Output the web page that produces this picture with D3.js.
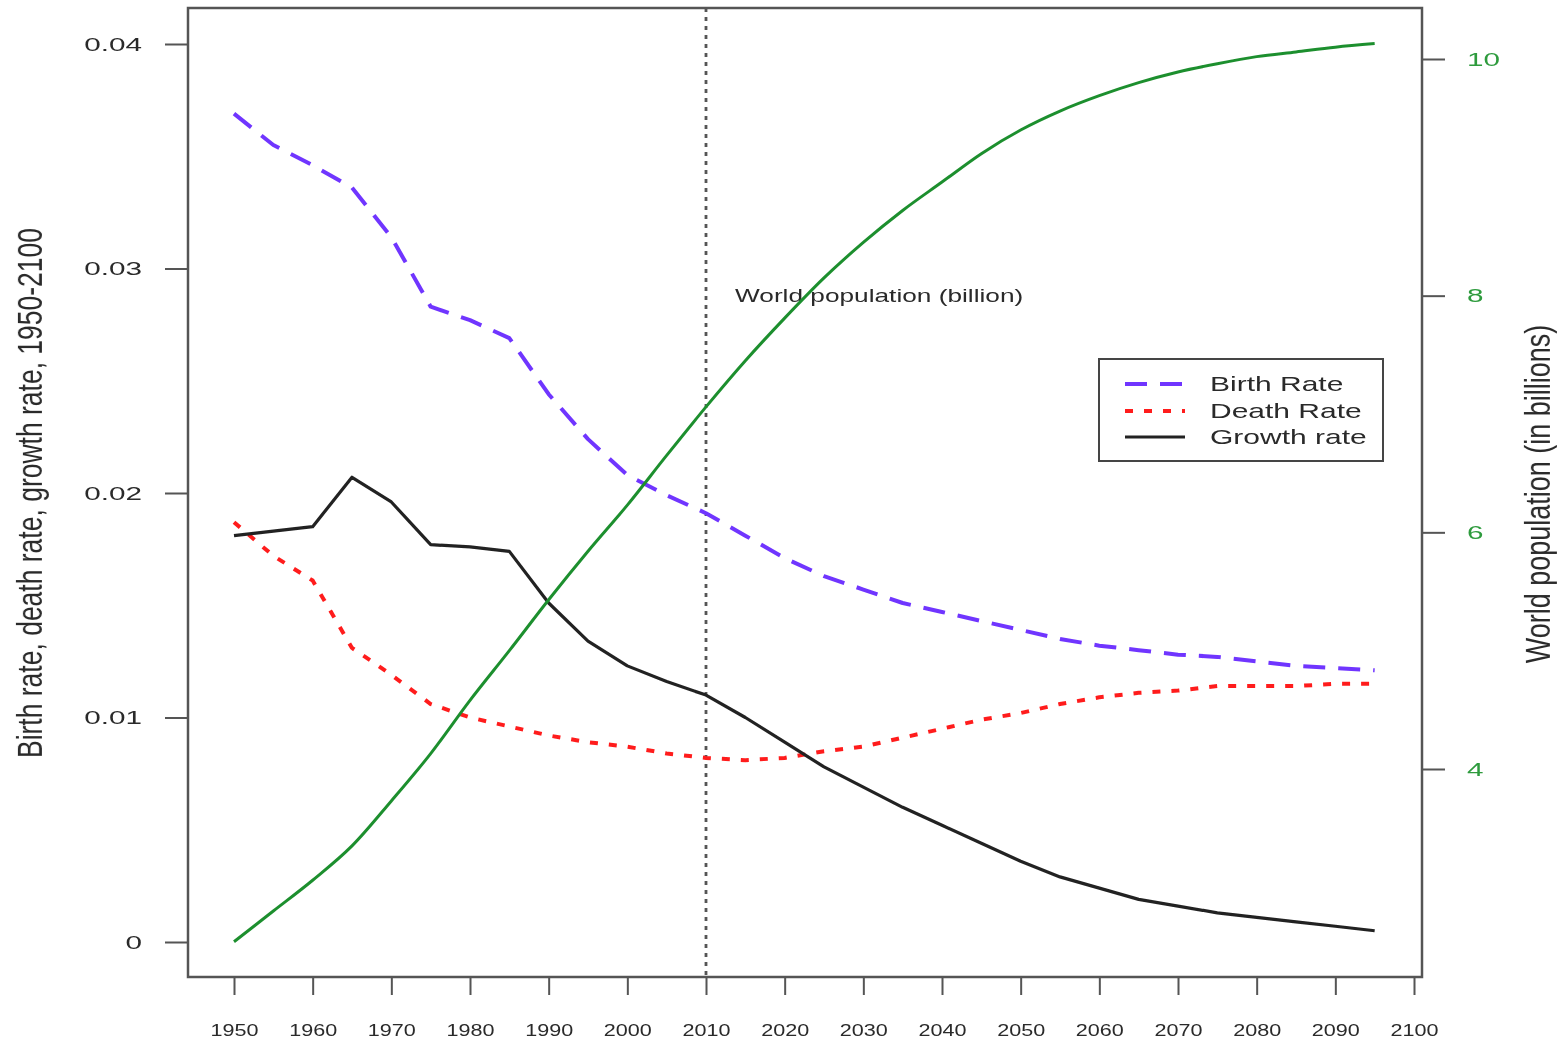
<!DOCTYPE html>
<html>
<head>
<meta charset="utf-8">
<script src="https://cdn.jsdelivr.net/npm/d3@7"></script>
<style>
  html, body { margin: 0; padding: 0; background: #fff; }
  svg { display: block; }
  text { font-family: "Liberation Sans", Arial, Helvetica, sans-serif; }
</style>
</head>
<body>
<svg id="chart" width="1568" height="1042"></svg>
<script>
// ---------------- data ----------------
const years = [1950, 1955, 1960, 1965, 1970, 1975, 1980, 1985, 1990, 1995,
               2000, 2005, 2010, 2015, 2020, 2025, 2030, 2035, 2040, 2045,
               2050, 2055, 2060, 2065, 2070, 2075, 2080, 2085, 2090, 2095];

const birthRate = [0.0369, 0.0355, 0.0346, 0.0336, 0.0314, 0.0283, 0.0277, 0.0269, 0.0244, 0.0224,
                   0.0208, 0.0199, 0.0191, 0.0181, 0.0171, 0.0163, 0.0157, 0.0151, 0.0147, 0.0143,
                   0.0139, 0.0135, 0.0132, 0.0130, 0.0128, 0.0127, 0.0125, 0.0123, 0.0122, 0.0121];

const deathRate = [0.0187, 0.0172, 0.0161, 0.0131, 0.0119, 0.0106, 0.0100, 0.0096, 0.0092, 0.0089,
                   0.0087, 0.0084, 0.0082, 0.0081, 0.0082, 0.0085, 0.0087, 0.0091, 0.0095, 0.0099,
                   0.0102, 0.0106, 0.0109, 0.0111, 0.0112, 0.0114, 0.0114, 0.0114, 0.0115, 0.0115];

const growthRate = [0.0181, 0.0183, 0.0185, 0.0207, 0.0196, 0.0177, 0.0176, 0.0174, 0.0151, 0.0134,
                    0.0123, 0.0116, 0.0110, 0.0100, 0.0089, 0.0078, 0.0069, 0.0060, 0.0052, 0.0044,
                    0.0036, 0.0029, 0.0024, 0.0019, 0.0016, 0.0013, 0.0011, 0.0009, 0.0007, 0.0005];

const population = [2.54, 2.80, 3.06, 3.35, 3.73, 4.13, 4.58, 5.00, 5.43, 5.84,
                    6.23, 6.65, 7.06, 7.45, 7.81, 8.15, 8.45, 8.72, 8.96, 9.20,
                    9.40, 9.56, 9.69, 9.80, 9.89, 9.96, 10.02, 10.06, 10.10, 10.13];

const xTicks = [1950, 1960, 1970, 1980, 1990, 2000, 2010, 2020, 2030, 2040,
                2050, 2060, 2070, 2080, 2090, 2100];
const leftTicks = [0, 0.01, 0.02, 0.03, 0.04];
const leftTickLabels = ["0", "0.01", "0.02", "0.03", "0.04"];
const rightTicks = [4, 6, 8, 10];
const rightTickLabels = ["4", "6", "8", "10"];

const legendLabels = ["Birth Rate", "Death Rate", "Growth rate"];
const markerYear = 2010;
const annotation = "World population (billion)";
const leftTitle = "Birth rate, death rate, growth rate, 1950-2100";
const rightTitle = "World population (in billions)";

// ---------------- layout ----------------
const svg = d3.select("#chart");
const defs = svg.append("defs");
defs.append("filter").attr("id", "soft")
  .append("feGaussianBlur").attr("stdDeviation", 0.55);
const root = svg.append("g").attr("filter", "url(#soft)");

const box = { left: 188, right: 1422, top: 8, bottom: 977 };

const x = d3.scaleLinear().domain([1950, 2100]).range([234, 1414]);
const yL = d3.scaleLinear().domain([0, 0.04]).range([942, 44]);
const yR = d3.scaleLinear().domain([4, 10]).range([769, 59]);

const textCol = "#2a2a2a";
const axisCol = "#555";
const green = "#1f8f2f";
const greenLabel = "#2e9b3e";

// ---------------- axes ----------------
function styleAxis(g) {
  g.select(".domain").remove();
  g.selectAll(".tick line").attr("stroke", axisCol).attr("stroke-width", 2);
}

const sxL = 1.65;
const gL = root.append("g").attr("transform", `translate(${box.left},0)`)
  .call(d3.axisLeft(yL).tickValues(leftTicks).tickSize(23)
        .tickFormat((d, i) => leftTickLabels[i]));
styleAxis(gL);
gL.selectAll(".tick text")
  .attr("x", -46 / sxL).attr("dy", "0.35em")
  .attr("transform", `scale(${sxL},1)`)
  .attr("font-size", 18).attr("fill", textCol).attr("text-anchor", "end");

const gR = root.append("g").attr("transform", `translate(${box.right},0)`)
  .call(d3.axisRight(yR).tickValues(rightTicks).tickSize(23)
        .tickFormat((d, i) => rightTickLabels[i]));
styleAxis(gR);
gR.selectAll(".tick text")
  .attr("x", 45 / sxL).attr("dy", "0.35em")
  .attr("transform", `scale(${sxL},1)`)
  .attr("font-size", 18).attr("fill", greenLabel).attr("text-anchor", "start");

const sxB = 1.35;
const gB = root.append("g").attr("transform", `translate(0,${box.bottom})`)
  .call(d3.axisBottom(x).tickValues(xTicks).tickSize(18).tickFormat(d3.format("d")));
styleAxis(gB);
gB.selectAll(".tick text")
  .attr("y", 53).attr("dy", "0.35em").attr("x", 0)
  .attr("transform", `scale(${sxB},1)`)
  .attr("font-size", 16).attr("fill", textCol).attr("text-anchor", "middle");

// axis titles
root.append("text")
  .attr("transform", "translate(30,493) scale(1.3,1) rotate(-90)")
  .attr("text-anchor", "middle").attr("dy", "0.35em")
  .attr("font-size", 26.5).attr("fill", textCol)
  .text(leftTitle);

root.append("text")
  .attr("transform", "translate(1538,494) scale(1.3,1) rotate(-90)")
  .attr("text-anchor", "middle").attr("dy", "0.35em")
  .attr("font-size", 27).attr("fill", textCol)
  .text(rightTitle);

// ---------------- plot content ----------------
root.append("line")
  .attr("x1", x(markerYear)).attr("x2", x(markerYear))
  .attr("y1", box.top).attr("y2", box.bottom)
  .attr("stroke", "#555").attr("stroke-width", 2.8)
  .attr("stroke-dasharray", "4,5");

root.append("text")
  .attr("transform", `translate(735,302) scale(1.5,1)`)
  .attr("font-size", 17.5).attr("fill", textCol)
  .text(annotation);

const lineL = d3.line().x((d, i) => x(years[i])).y(d => yL(d)).curve(d3.curveLinear);
const lineR = d3.line().x((d, i) => x(years[i])).y(d => yR(d)).curve(d3.curveMonotoneX);

const series = [
  { data: birthRate, color: "#7036ff", width: 4, dash: "22,13", gen: lineL },
  { data: deathRate, color: "#ff1e1e", width: 4, dash: "8,11", gen: lineL },
  { data: growthRate, color: "#222", width: 3.2, dash: null, gen: lineL },
  { data: population, color: green, width: 3, dash: null, gen: lineR }
];

series.forEach(s => {
  root.append("path")
    .attr("d", s.gen(s.data))
    .attr("fill", "none")
    .attr("stroke", s.color)
    .attr("stroke-width", s.width)
    .attr("stroke-linejoin", "round")
    .attr("stroke-dasharray", s.dash);
});

root.append("rect")
  .attr("x", box.left).attr("y", box.top)
  .attr("width", box.right - box.left).attr("height", box.bottom - box.top)
  .attr("fill", "none").attr("stroke", axisCol).attr("stroke-width", 2.5);

// ---------------- legend ----------------
const lg = root.append("g");
lg.append("rect")
  .attr("x", 1099).attr("y", 359).attr("width", 284).attr("height", 102)
  .attr("fill", "#fff").attr("stroke", "#444").attr("stroke-width", 2);

const legendRows = [384, 411, 437];
series.slice(0, 3).forEach((s, i) => {
  lg.append("line")
    .attr("x1", 1125).attr("x2", 1185)
    .attr("y1", legendRows[i]).attr("y2", legendRows[i])
    .attr("stroke", s.color).attr("stroke-width", s.width)
    .attr("stroke-dasharray", s.dash);
  lg.append("text")
    .attr("transform", `translate(1210,${legendRows[i]}) scale(1.5,1)`)
    .attr("dy", "0.36em")
    .attr("font-size", 20).attr("fill", textCol)
    .text(legendLabels[i]);
});
</script>
</body>
</html>
